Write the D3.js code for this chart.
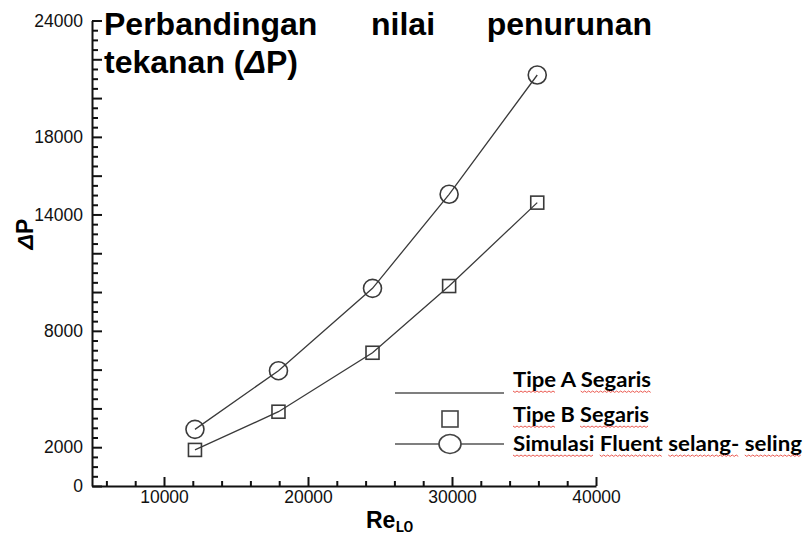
<!DOCTYPE html>
<html>
<head>
<meta charset="utf-8">
<script src="https://cdn.jsdelivr.net/npm/d3@7"></script>
<style>
  html, body { margin: 0; padding: 0; background: #fff; }
  svg { display: block; }
</style>
</head>
<body>
<svg id="chart" width="804" height="539"></svg>
<script>
// Reynolds number of each run
const reL0 = [12150, 17950, 24480, 29800, 35920];
// Pressure drop, Tipe B Segaris (squares)
const dpTipeB = [1860, 3830, 6870, 10310, 14610];
// Pressure drop, Simulasi Fluent selang-seling (circles)
const dpFluent = [2920, 5945, 10190, 15040, 21190];

// Axis ticks
const yMajorTicks = d3.range(0, 24001, 2000);
const yMinorTicks = d3.range(0, 24001, 500).filter(v => v % 2000 !== 0);
const yLabelled = [0, 2000, 8000, 14000, 18000, 24000];
const xMajorTicks = [10000, 20000, 30000, 40000];
const xMinorTicks = d3.range(6000, 40000, 2000).filter(v => v % 10000 !== 0);

const legendItems = [
  { label: "Tipe A Segaris", line: true, marker: null, wavy: ["Tipe", "Segaris"] },
  { label: "Tipe B Segaris", line: false, marker: "square", wavy: ["Tipe", "Segaris"] },
  { label: "Simulasi Fluent selang- seling", line: true, marker: "circle", wavy: ["Simulasi", "Fluent", "selang-", "seling"] }
];

const svg = d3.select("#chart");
const ink = "#111";
const seriesInk = "#3a3a3a";
const sansFont = "'Liberation Sans', Arial, Helvetica, sans-serif";

const x = d3.scaleLinear().domain([5000, 40000]).range([92, 596]);
const y = d3.scaleLinear().domain([0, 24000]).range([486, 20.5]);

// ---- Y axis (ticks point into the plot) ----
const gy = svg.append("g").attr("transform", `translate(${x.range()[0]},0)`);
gy.append("g")
  .call(d3.axisLeft(y).tickValues(yMinorTicks).tickSizeInner(-6).tickSizeOuter(0).tickFormat(""))
  .call(g => g.select(".domain").remove());
gy.append("g")
  .call(d3.axisLeft(y).tickValues(yMajorTicks).tickSizeInner(-10).tickSizeOuter(0).tickPadding(9)
    .tickFormat(d => yLabelled.includes(d) ? d3.format("d")(d) : ""));
gy.selectAll("line").attr("stroke", ink).attr("stroke-width", 2);
gy.selectAll(".domain").attr("stroke", ink).attr("stroke-width", 2);
gy.selectAll("text").attr("font-family", sansFont).attr("font-size", 17.5).attr("fill", ink);

// ---- X axis (ticks point up into the plot) ----
const gx = svg.append("g").attr("transform", `translate(0,${y.range()[0]})`);
gx.append("g")
  .call(d3.axisBottom(x).tickValues(xMinorTicks).tickSizeInner(-5).tickSizeOuter(0).tickFormat(""))
  .call(g => g.select(".domain").remove());
gx.append("g")
  .call(d3.axisBottom(x).tickValues(xMajorTicks).tickSizeInner(-9).tickSizeOuter(0).tickPadding(5)
    .tickFormat(d3.format("d")));
gx.selectAll("line").attr("stroke", ink).attr("stroke-width", 2);
gx.selectAll(".domain").attr("stroke", ink).attr("stroke-width", 2);
gx.selectAll("text").attr("font-family", sansFont).attr("font-size", 17.5).attr("fill", ink);

// ---- Series ----
const line = d3.line().x(d => x(d[0])).y(d => y(d[1]));
const fluentPts = reL0.map((r, i) => [r, dpFluent[i]]);
const tipeBPts = reL0.map((r, i) => [r, dpTipeB[i]]);

svg.append("path").datum(tipeBPts).attr("d", line)
  .attr("fill", "none").attr("stroke", seriesInk).attr("stroke-width", 1.3);
svg.append("path").datum(fluentPts).attr("d", line)
  .attr("fill", "none").attr("stroke", seriesInk).attr("stroke-width", 1.3);

const sq = 13;
svg.append("g").selectAll("rect").data(tipeBPts).join("rect")
  .attr("x", d => x(d[0]) - sq / 2).attr("y", d => y(d[1]) - sq / 2)
  .attr("width", sq).attr("height", sq)
  .attr("fill", "none").attr("stroke", seriesInk).attr("stroke-width", 1.6);
svg.append("g").selectAll("circle").data(fluentPts).join("circle")
  .attr("cx", d => x(d[0])).attr("cy", d => y(d[1])).attr("r", 9)
  .attr("fill", "none").attr("stroke", seriesInk).attr("stroke-width", 1.6);

// ---- Title (justified first line) ----
const title = svg.append("g").attr("font-family", sansFont).attr("font-weight", "bold")
  .attr("font-size", 32).attr("fill", "#000");
title.append("text").attr("x", 104).attr("y", 35).text("Perbandingan");
title.append("text").attr("x", 371).attr("y", 35).text("nilai");
title.append("text").attr("x", 652).attr("y", 35).attr("text-anchor", "end").text("penurunan");
const t2 = title.append("text").attr("x", 104).attr("y", 73);
t2.append("tspan").text("tekanan (");
t2.append("tspan").attr("font-style", "italic").text("Δ");
t2.append("tspan").text("P)");

// ---- Axis titles ----
const yTitle = svg.append("text")
  .attr("transform", "translate(33,234) rotate(-90)")
  .attr("text-anchor", "middle")
  .attr("font-family", sansFont).attr("font-weight", "bold").attr("font-size", 23).attr("fill", "#000");
yTitle.append("tspan").attr("font-style", "italic").text("Δ");
yTitle.append("tspan").text("P");

const xTitle = svg.append("text").attr("x", 366).attr("y", 528)
  .attr("font-family", sansFont).attr("font-weight", "bold").attr("font-size", 23).attr("fill", "#000");
xTitle.append("tspan").text("Re");
xTitle.append("tspan").attr("font-family", "Lato, sans-serif").attr("font-size", 16).attr("dy", 4).text("L0");

// ---- Legend ----
const legend = svg.append("g");
const legendRows = [387, 422, 451];
const legendSampleY = [393, 419, 444];
const legendWidths = [138, 136, 289];
legendItems.forEach((item, i) => {
  const sy = legendSampleY[i];
  if (item.line) {
    legend.append("line").attr("x1", 395).attr("x2", 504).attr("y1", sy).attr("y2", sy)
      .attr("stroke", "#555").attr("stroke-width", 1.6);
  }
  if (item.marker === "square") {
    legend.append("rect").attr("x", 450 - 8).attr("y", sy - 8).attr("width", 16).attr("height", 16)
      .attr("fill", "none").attr("stroke", "#444").attr("stroke-width", 1.6);
  }
  if (item.marker === "circle") {
    legend.append("ellipse").attr("cx", 450).attr("cy", sy).attr("rx", 11).attr("ry", 9.5)
      .attr("fill", "#fff").attr("stroke", "#444").attr("stroke-width", 1.6);
  }
  const txt = legend.append("text").attr("x", 513).attr("y", legendRows[i])
    .attr("font-family", "Lato, 'Open Sans', sans-serif").attr("font-weight", "bold")
    .attr("font-size", 20.5).attr("fill", "#000")
    .attr("textLength", legendWidths[i]).attr("lengthAdjust", "spacingAndGlyphs")
    .text(item.label);

  // red wavy underline under the marked words
  const node = txt.node();
  let from = 0;
  item.wavy.forEach(word => {
    const idx = item.label.indexOf(word, from);
    from = idx + word.length;
    const x0 = node.getStartPositionOfChar(idx).x;
    const x1 = node.getEndPositionOfChar(idx + word.length - 1).x;
    const base = legendRows[i] + 4;
    const pts = [];
    for (let px = x0, k = 0; px <= x1; px += 2, k++) pts.push([px, base + (k % 2 ? 1.4 : 0)]);
    legend.append("path").attr("d", d3.line()(pts))
      .attr("fill", "none").attr("stroke", "#e8463c").attr("stroke-width", 0.9);
  });
});
</script>
</body>
</html>
